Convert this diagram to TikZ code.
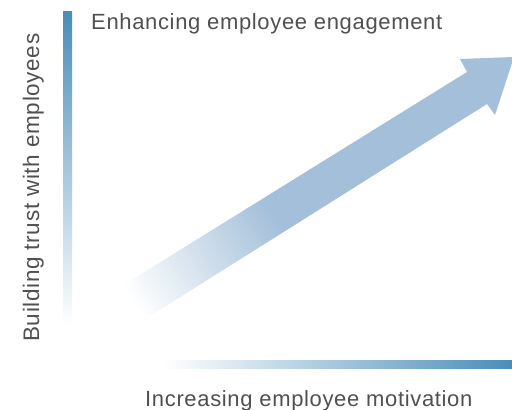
\documentclass[tikz,border=0pt]{standalone}
\usepackage{fontspec}
\setmainfont{Liberation Sans}[LetterSpace=3]
\usepackage[]{xcolor}
\usepackage{tikz}
\usetikzlibrary{positioning}
\colorlet{barBlue}{rgb,255:red,74;green,141;blue,184}
\colorlet{arrowBlue}{rgb,255:red,163;green,191;blue,217}
\colorlet{axisText}{rgb,255:red,80;green,80;blue,80}
\pgfdeclarehorizontalshading{arrowfade}{100bp}{color(0bp)=(white); color(19bp)=(white); color(43bp)=(arrowBlue); color(100bp)=(arrowBlue)}
\tikzstyle{axislabel} = [inner sep=0pt,text=axisText,font=\fontsize{22}{26}\selectfont]

\begin{document}
\begin{tikzpicture}[x=1pt,y=1pt]
%
\useasboundingbox (0,0) rectangle (512,410);

% axes
\shade [top color=barBlue,bottom color=white] (63,85) rectangle (72,398);
\shade [left color=white,right color=barBlue] (163,41) rectangle (512,49);

% big arrow
\shade [shading=arrowfade,shading angle=32]
  (117,121) -- (467,338) -- (460,351) -- (514,353) -- (495,295) -- (487,306) -- (139,87) -- cycle;

\node (engage) [axislabel,anchor=base west] at (91,380.7) {Enhancing employee engagement};
\node (motiv) [axislabel,anchor=base west] at (145,3.3) {Increasing employee motivation};
\node (trust) [axislabel,anchor=base west,rotate=90,font=\fontsize{22.5}{26}\selectfont] at (39,68) {Building trust with employees};
\end{tikzpicture}
\end{document}
